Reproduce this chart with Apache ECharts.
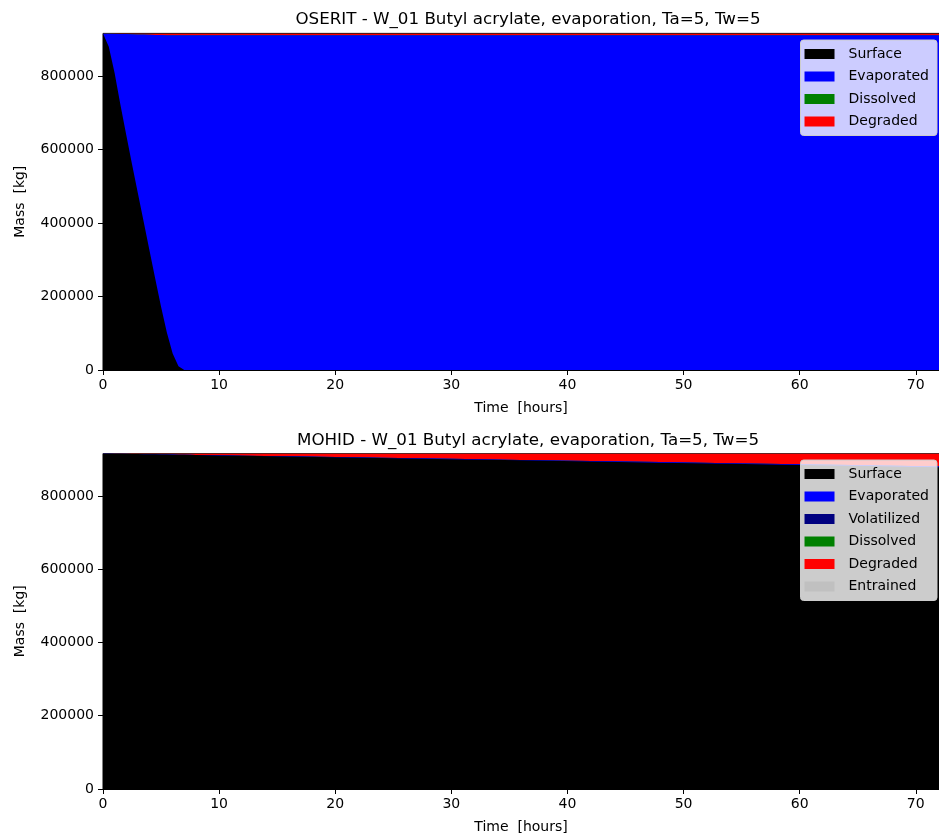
<!DOCTYPE html>
<html>
<head>
<meta charset="utf-8">
<script src="https://cdn.jsdelivr.net/npm/echarts@6/dist/echarts.min.js"></script>
<style>html,body{margin:0;padding:0;background:#fff}#c{width:939px;height:840px}</style>
</head>
<body>
<div id="c"></div>
<script>
// ---- data ----
const timeHours = [0,0.5,1,1.5,2,2.5,3,3.5,4,4.5,5,5.5,6,6.5,7,7.5,8,10,12,16,20,24,30,36,42,48,54,60,66,72];
const totalMass = 916000;

// OSERIT
const oseritSurface   = [916000,880000,808000,722000,640000,560000,482000,404000,326000,248000,172000,102000,45000,10000,0,0,0,0,0,0,0,0,0,0,0,0,0,0,0,0];
const oseritEvaporated= [0,35700,107200,192700,274200,353700,431200,508700,586300,663900,739600,809300,866100,901000,910900,910900,910900,910900,910900,910900,910900,910900,910900,910900,910900,910900,910900,910900,910900,910900];
const oseritDissolved = [0,0,0,0,0,0,0,0,0,0,0,0,0,0,0,0,0,0,0,0,0,0,0,0,0,0,0,0,0,0];
const oseritDegraded  = [0,300,800,1300,1800,2300,2800,3300,3700,4100,4400,4700,4900,5000,5100,5100,5100,5100,5100,5100,5100,5100,5100,5100,5100,5100,5100,5100,5100,5100];

// MOHID
const mohidSurface    = [916000,915740,915480,915220,914960,914700,914440,914180,913920,913660,913400,913140,912880,912620,912360,912100,911840,910800,909760,907680,905600,903520,900400,897280,894160,891040,887920,884800,881680,878560];
const mohidEvaporated = [0,16,31,47,62,78,94,109,125,140,156,172,187,203,218,234,250,312,374,499,624,749,936,1123,1310,1498,1685,1872,2059,2246];
const mohidVolatilized= [0,0,0,0,0,0,0,0,0,0,0,0,0,0,0,0,0,0,0,0,0,0,0,0,0,0,0,0,0,0];
const mohidDissolved  = [0,0,0,0,0,0,0,0,0,0,0,0,0,0,0,0,0,0,0,0,0,0,0,0,0,0,0,0,0,0];
const mohidDegraded   = [0,244,489,733,978,1222,1466,1711,1955,2200,2444,2688,2933,3177,3422,3666,3910,4888,5866,7821,9776,11731,14664,17597,20530,23462,26395,29328,32261,35194];
const mohidEntrained  = [0,0,0,0,0,0,0,0,0,0,0,0,0,0,0,0,0,0,0,0,0,0,0,0,0,0,0,0,0,0];

const xTicks = [0,10,20,30,40,50,60,70];
const yTicks = [0,200000,400000,600000,800000];

const titles = [
  'OSERIT - W_01 Butyl acrylate, evaporation, Ta=5, Tw=5',
  'MOHID - W_01 Butyl acrylate, evaporation, Ta=5, Tw=5'
];

const colors = {Surface:'#000000', Evaporated:'#0000ff', Volatilized:'#000080', Dissolved:'#008000', Degraded:'#ff0000', Entrained:'#c0c0c0'};

const FONT = 'DejaVu Sans';

// Build stacked bands: cumulative sums, drawn top band first so lower bands paint over it
function stackedSeries(names, arrays, idx){
  const out = [];
  let cum = timeHours.map(() => 0);
  const cums = arrays.map(arr => { cum = cum.map((c,i)=>c+arr[i]); return cum.slice(); });
  for (let k = names.length - 1; k >= 0; k--) {
    const n = names[k];
    out.push({
      name:n, type:'line', xAxisIndex:idx, yAxisIndex:idx,
      data: cums[k].map((v,i)=>[timeHours[i], v]),
      showSymbol:false, symbol:'none', smooth:false,
      lineStyle:{width:0, color:colors[n]},
      itemStyle:{color:colors[n]},
      areaStyle:{color:colors[n], opacity:1, origin:'start'},
      emphasis:{disabled:true}
    });
  }
  return out;
}

const grids = [
  {left:103, top:33.4, width:840, height:336.6},
  {left:103, top:453.5, width:840, height:335.5}
];

function xAxis(i){
  return {
    type:'value', gridIndex:i, min:0, max:72,
    name:'Time  [hours]', nameLocation:'middle', nameGap:31,
    nameTextStyle:{fontFamily:FONT, fontSize:14, color:'#000'},
    axisLine:{show:true, onZero:false, lineStyle:{color:'#000', width:1}},
    axisTick:{show:true, length:5, customValues:xTicks, lineStyle:{color:'#000'}},
    axisLabel:{fontFamily:FONT, fontSize:14, color:'#000', margin:8, customValues:xTicks, formatter:v=>String(v)},
    splitLine:{show:false}
  };
}
function yAxis(i){
  return {
    type:'value', gridIndex:i, min:0, max:totalMass,
    name:'Mass  [kg]', nameLocation:'middle', nameGap:76, nameRotate:90,
    nameTextStyle:{fontFamily:FONT, fontSize:14, color:'#000'},
    axisLine:{show:true, lineStyle:{color:'#000', width:1}},
    axisTick:{show:true, length:5, customValues:yTicks, lineStyle:{color:'#000'}},
    axisLabel:{fontFamily:FONT, fontSize:14, color:'#000', margin:9, customValues:yTicks, formatter:v=>String(v)},
    splitLine:{show:false}
  };
}

function legend(names, top){
  return {
    data: names.map(n=>({name:n, icon:'rect', itemStyle:{color:colors[n]}})),
    orient:'vertical', right:2, top:top,
    itemWidth:30, itemHeight:10, itemGap:6.5,
    backgroundColor:'rgba(255,255,255,0.8)', borderColor:'#cccccc', borderWidth:1, borderRadius:3,
    padding:[6,8,6,4],
    textStyle:{fontFamily:FONT, fontSize:14, color:'#000', lineHeight:16, padding:[0,0,0,9]},
    selectedMode:false
  };
}

const namesA = ['Surface','Evaporated','Dissolved','Degraded'];
const namesB = ['Surface','Evaporated','Volatilized','Dissolved','Degraded','Entrained'];

const option = {
  animation:false,
  backgroundColor:'#fff',
  title:[
    {text:titles[0], left:523, top:6, textAlign:'center', textStyle:{fontFamily:FONT, fontSize:16.7, fontWeight:'normal', color:'#000'}},
    {text:titles[1], left:523, top:427, textAlign:'center', textStyle:{fontFamily:FONT, fontSize:16.7, fontWeight:'normal', color:'#000'}}
  ],
  grid: grids.map(g=>Object.assign({show:true, borderColor:'#000', borderWidth:1, backgroundColor:'transparent'}, g)),
  xAxis:[xAxis(0), xAxis(1)],
  yAxis:[yAxis(0), yAxis(1)],
  legend:[
    legend(namesA, 40),
    legend(namesB, 460)
  ],
  series:[].concat(
    stackedSeries(namesA, [oseritSurface, oseritEvaporated, oseritDissolved, oseritDegraded], 0),
    stackedSeries(namesB, [mohidSurface, mohidEvaporated, mohidVolatilized, mohidDissolved, mohidDegraded, mohidEntrained], 1)
  )
};

const chart = echarts.init(document.getElementById('c'), null, {renderer:'canvas'});
chart.setOption(option);
</script>
</body>
</html>
